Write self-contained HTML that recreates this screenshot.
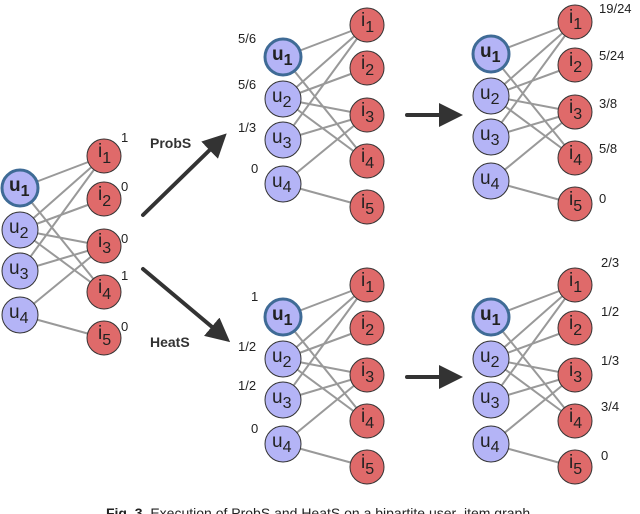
<!DOCTYPE html>
<html><head><meta charset="utf-8"><style>
html,body{margin:0;padding:0;background:#fff;width:640px;height:514px;overflow:hidden}
svg{display:block}
text{font-family:"Liberation Sans",sans-serif}
</style></head><body>
<svg width="640" height="514" viewBox="0 0 640 514" xmlns="http://www.w3.org/2000/svg">
<defs>
<marker id="ah" markerWidth="6" markerHeight="6" refX="4" refY="3" orient="auto" markerUnits="strokeWidth">
<path d="M0,0 L6,3 L0,6 z" fill="#333"/>
</marker>
</defs>
<g stroke="#333" stroke-width="4" stroke-linecap="round" fill="none">
<line x1="143" y1="215" x2="221" y2="139" marker-end="url(#ah)"/>
<line x1="143" y1="269" x2="224" y2="337" marker-end="url(#ah)"/>
<line x1="407" y1="115" x2="455" y2="115" marker-end="url(#ah)"/>
<line x1="407" y1="377" x2="455" y2="377" marker-end="url(#ah)"/>
</g>
<text x="150" y="148" font-size="14" font-weight="bold" fill="#333">ProbS</text>
<text x="150" y="347" font-size="14" font-weight="bold" fill="#333">HeatS</text>

<g font-size="19" fill="#222">
<g transform="translate(20,188)">
<g stroke="#999" stroke-width="2">
<line x1="0" y1="0" x2="84" y2="-32"/><line x1="0" y1="0" x2="84" y2="104"/>
<line x1="0" y1="42" x2="84" y2="-32"/><line x1="0" y1="42" x2="84" y2="11"/><line x1="0" y1="42" x2="84" y2="58"/><line x1="0" y1="42" x2="84" y2="104"/>
<line x1="0" y1="83" x2="84" y2="-32"/><line x1="0" y1="83" x2="84" y2="58"/>
<line x1="0" y1="127" x2="84" y2="58"/><line x1="0" y1="127" x2="84" y2="150"/>
</g>
<circle cx="0" cy="0" r="18" fill="#b4b4f6" stroke="#3f6b96" stroke-width="3"/>
<circle cx="0" cy="42" r="18" fill="#b4b4f6" stroke="#333" stroke-width="1"/>
<circle cx="0" cy="83" r="18" fill="#b4b4f6" stroke="#333" stroke-width="1"/>
<circle cx="0" cy="127" r="18" fill="#b4b4f6" stroke="#333" stroke-width="1"/>
<circle cx="84" cy="-32" r="17" fill="#df6a6a" stroke="#333" stroke-width="1"/>
<circle cx="84" cy="11" r="17" fill="#df6a6a" stroke="#333" stroke-width="1"/>
<circle cx="84" cy="58" r="17" fill="#df6a6a" stroke="#333" stroke-width="1"/>
<circle cx="84" cy="104" r="17" fill="#df6a6a" stroke="#333" stroke-width="1"/>
<circle cx="84" cy="150" r="17" fill="#df6a6a" stroke="#333" stroke-width="1"/>
<text x="-11" y="3" font-weight="bold">u<tspan font-size="16" dy="5">1</tspan></text>
<text x="-11" y="45">u<tspan font-size="16" dy="5">2</tspan></text>
<text x="-11" y="86">u<tspan font-size="16" dy="5">3</tspan></text>
<text x="-11" y="130">u<tspan font-size="16" dy="5">4</tspan></text>
<text x="78" y="-31">i<tspan font-size="16" dy="6">1</tspan></text>
<text x="78" y="12">i<tspan font-size="16" dy="6">2</tspan></text>
<text x="78" y="59">i<tspan font-size="16" dy="6">3</tspan></text>
<text x="78" y="105">i<tspan font-size="16" dy="6">4</tspan></text>
<text x="78" y="151">i<tspan font-size="16" dy="6">5</tspan></text>
</g>
<g font-size="13"><text x="121" y="142">1</text><text x="121" y="191">0</text><text x="121" y="243">0</text><text x="121" y="280">1</text><text x="121" y="331">0</text></g>

<g transform="translate(283,57)">
<g stroke="#999" stroke-width="2">
<line x1="0" y1="0" x2="84" y2="-32"/><line x1="0" y1="0" x2="84" y2="104"/>
<line x1="0" y1="42" x2="84" y2="-32"/><line x1="0" y1="42" x2="84" y2="11"/><line x1="0" y1="42" x2="84" y2="58"/><line x1="0" y1="42" x2="84" y2="104"/>
<line x1="0" y1="83" x2="84" y2="-32"/><line x1="0" y1="83" x2="84" y2="58"/>
<line x1="0" y1="127" x2="84" y2="58"/><line x1="0" y1="127" x2="84" y2="150"/>
</g>
<circle cx="0" cy="0" r="18" fill="#b4b4f6" stroke="#3f6b96" stroke-width="3"/>
<circle cx="0" cy="42" r="18" fill="#b4b4f6" stroke="#333" stroke-width="1"/>
<circle cx="0" cy="83" r="18" fill="#b4b4f6" stroke="#333" stroke-width="1"/>
<circle cx="0" cy="127" r="18" fill="#b4b4f6" stroke="#333" stroke-width="1"/>
<circle cx="84" cy="-32" r="17" fill="#df6a6a" stroke="#333" stroke-width="1"/>
<circle cx="84" cy="11" r="17" fill="#df6a6a" stroke="#333" stroke-width="1"/>
<circle cx="84" cy="58" r="17" fill="#df6a6a" stroke="#333" stroke-width="1"/>
<circle cx="84" cy="104" r="17" fill="#df6a6a" stroke="#333" stroke-width="1"/>
<circle cx="84" cy="150" r="17" fill="#df6a6a" stroke="#333" stroke-width="1"/>
<text x="-11" y="3" font-weight="bold">u<tspan font-size="16" dy="5">1</tspan></text>
<text x="-11" y="45">u<tspan font-size="16" dy="5">2</tspan></text>
<text x="-11" y="86">u<tspan font-size="16" dy="5">3</tspan></text>
<text x="-11" y="130">u<tspan font-size="16" dy="5">4</tspan></text>
<text x="78" y="-31">i<tspan font-size="16" dy="6">1</tspan></text>
<text x="78" y="12">i<tspan font-size="16" dy="6">2</tspan></text>
<text x="78" y="59">i<tspan font-size="16" dy="6">3</tspan></text>
<text x="78" y="105">i<tspan font-size="16" dy="6">4</tspan></text>
<text x="78" y="151">i<tspan font-size="16" dy="6">5</tspan></text>
</g>
<g font-size="13"><text x="238" y="43">5/6</text><text x="238" y="89">5/6</text><text x="238" y="132">1/3</text><text x="251" y="173">0</text></g>

<g transform="translate(491,54)">
<g stroke="#999" stroke-width="2">
<line x1="0" y1="0" x2="84" y2="-32"/><line x1="0" y1="0" x2="84" y2="104"/>
<line x1="0" y1="42" x2="84" y2="-32"/><line x1="0" y1="42" x2="84" y2="11"/><line x1="0" y1="42" x2="84" y2="58"/><line x1="0" y1="42" x2="84" y2="104"/>
<line x1="0" y1="83" x2="84" y2="-32"/><line x1="0" y1="83" x2="84" y2="58"/>
<line x1="0" y1="127" x2="84" y2="58"/><line x1="0" y1="127" x2="84" y2="150"/>
</g>
<circle cx="0" cy="0" r="18" fill="#b4b4f6" stroke="#3f6b96" stroke-width="3"/>
<circle cx="0" cy="42" r="18" fill="#b4b4f6" stroke="#333" stroke-width="1"/>
<circle cx="0" cy="83" r="18" fill="#b4b4f6" stroke="#333" stroke-width="1"/>
<circle cx="0" cy="127" r="18" fill="#b4b4f6" stroke="#333" stroke-width="1"/>
<circle cx="84" cy="-32" r="17" fill="#df6a6a" stroke="#333" stroke-width="1"/>
<circle cx="84" cy="11" r="17" fill="#df6a6a" stroke="#333" stroke-width="1"/>
<circle cx="84" cy="58" r="17" fill="#df6a6a" stroke="#333" stroke-width="1"/>
<circle cx="84" cy="104" r="17" fill="#df6a6a" stroke="#333" stroke-width="1"/>
<circle cx="84" cy="150" r="17" fill="#df6a6a" stroke="#333" stroke-width="1"/>
<text x="-11" y="3" font-weight="bold">u<tspan font-size="16" dy="5">1</tspan></text>
<text x="-11" y="45">u<tspan font-size="16" dy="5">2</tspan></text>
<text x="-11" y="86">u<tspan font-size="16" dy="5">3</tspan></text>
<text x="-11" y="130">u<tspan font-size="16" dy="5">4</tspan></text>
<text x="78" y="-31">i<tspan font-size="16" dy="6">1</tspan></text>
<text x="78" y="12">i<tspan font-size="16" dy="6">2</tspan></text>
<text x="78" y="59">i<tspan font-size="16" dy="6">3</tspan></text>
<text x="78" y="105">i<tspan font-size="16" dy="6">4</tspan></text>
<text x="78" y="151">i<tspan font-size="16" dy="6">5</tspan></text>
</g>
<g font-size="13"><text x="599" y="13">19/24</text><text x="599" y="60">5/24</text><text x="599" y="108">3/8</text><text x="599" y="153">5/8</text><text x="599" y="203">0</text></g>

<g transform="translate(283,317)">
<g stroke="#999" stroke-width="2">
<line x1="0" y1="0" x2="84" y2="-32"/><line x1="0" y1="0" x2="84" y2="104"/>
<line x1="0" y1="42" x2="84" y2="-32"/><line x1="0" y1="42" x2="84" y2="11"/><line x1="0" y1="42" x2="84" y2="58"/><line x1="0" y1="42" x2="84" y2="104"/>
<line x1="0" y1="83" x2="84" y2="-32"/><line x1="0" y1="83" x2="84" y2="58"/>
<line x1="0" y1="127" x2="84" y2="58"/><line x1="0" y1="127" x2="84" y2="150"/>
</g>
<circle cx="0" cy="0" r="18" fill="#b4b4f6" stroke="#3f6b96" stroke-width="3"/>
<circle cx="0" cy="42" r="18" fill="#b4b4f6" stroke="#333" stroke-width="1"/>
<circle cx="0" cy="83" r="18" fill="#b4b4f6" stroke="#333" stroke-width="1"/>
<circle cx="0" cy="127" r="18" fill="#b4b4f6" stroke="#333" stroke-width="1"/>
<circle cx="84" cy="-32" r="17" fill="#df6a6a" stroke="#333" stroke-width="1"/>
<circle cx="84" cy="11" r="17" fill="#df6a6a" stroke="#333" stroke-width="1"/>
<circle cx="84" cy="58" r="17" fill="#df6a6a" stroke="#333" stroke-width="1"/>
<circle cx="84" cy="104" r="17" fill="#df6a6a" stroke="#333" stroke-width="1"/>
<circle cx="84" cy="150" r="17" fill="#df6a6a" stroke="#333" stroke-width="1"/>
<text x="-11" y="3" font-weight="bold">u<tspan font-size="16" dy="5">1</tspan></text>
<text x="-11" y="45">u<tspan font-size="16" dy="5">2</tspan></text>
<text x="-11" y="86">u<tspan font-size="16" dy="5">3</tspan></text>
<text x="-11" y="130">u<tspan font-size="16" dy="5">4</tspan></text>
<text x="78" y="-31">i<tspan font-size="16" dy="6">1</tspan></text>
<text x="78" y="12">i<tspan font-size="16" dy="6">2</tspan></text>
<text x="78" y="59">i<tspan font-size="16" dy="6">3</tspan></text>
<text x="78" y="105">i<tspan font-size="16" dy="6">4</tspan></text>
<text x="78" y="151">i<tspan font-size="16" dy="6">5</tspan></text>
</g>
<g font-size="13"><text x="251" y="301">1</text><text x="238" y="351">1/2</text><text x="238" y="390">1/2</text><text x="251" y="433">0</text></g>

<g transform="translate(491,317)">
<g stroke="#999" stroke-width="2">
<line x1="0" y1="0" x2="84" y2="-32"/><line x1="0" y1="0" x2="84" y2="104"/>
<line x1="0" y1="42" x2="84" y2="-32"/><line x1="0" y1="42" x2="84" y2="11"/><line x1="0" y1="42" x2="84" y2="58"/><line x1="0" y1="42" x2="84" y2="104"/>
<line x1="0" y1="83" x2="84" y2="-32"/><line x1="0" y1="83" x2="84" y2="58"/>
<line x1="0" y1="127" x2="84" y2="58"/><line x1="0" y1="127" x2="84" y2="150"/>
</g>
<circle cx="0" cy="0" r="18" fill="#b4b4f6" stroke="#3f6b96" stroke-width="3"/>
<circle cx="0" cy="42" r="18" fill="#b4b4f6" stroke="#333" stroke-width="1"/>
<circle cx="0" cy="83" r="18" fill="#b4b4f6" stroke="#333" stroke-width="1"/>
<circle cx="0" cy="127" r="18" fill="#b4b4f6" stroke="#333" stroke-width="1"/>
<circle cx="84" cy="-32" r="17" fill="#df6a6a" stroke="#333" stroke-width="1"/>
<circle cx="84" cy="11" r="17" fill="#df6a6a" stroke="#333" stroke-width="1"/>
<circle cx="84" cy="58" r="17" fill="#df6a6a" stroke="#333" stroke-width="1"/>
<circle cx="84" cy="104" r="17" fill="#df6a6a" stroke="#333" stroke-width="1"/>
<circle cx="84" cy="150" r="17" fill="#df6a6a" stroke="#333" stroke-width="1"/>
<text x="-11" y="3" font-weight="bold">u<tspan font-size="16" dy="5">1</tspan></text>
<text x="-11" y="45">u<tspan font-size="16" dy="5">2</tspan></text>
<text x="-11" y="86">u<tspan font-size="16" dy="5">3</tspan></text>
<text x="-11" y="130">u<tspan font-size="16" dy="5">4</tspan></text>
<text x="78" y="-31">i<tspan font-size="16" dy="6">1</tspan></text>
<text x="78" y="12">i<tspan font-size="16" dy="6">2</tspan></text>
<text x="78" y="59">i<tspan font-size="16" dy="6">3</tspan></text>
<text x="78" y="105">i<tspan font-size="16" dy="6">4</tspan></text>
<text x="78" y="151">i<tspan font-size="16" dy="6">5</tspan></text>
</g>
<g font-size="13"><text x="601" y="267">2/3</text><text x="601" y="316">1/2</text><text x="601" y="365">1/3</text><text x="601" y="411">3/4</text><text x="601" y="460">0</text></g>
</g>

<text x="320" y="518" font-size="14" text-anchor="middle" fill="#222"><tspan font-weight="bold">Fig. 3.</tspan> Execution of ProbS and HeatS on a bipartite user–item graph.</text>
</svg>
</body></html>
